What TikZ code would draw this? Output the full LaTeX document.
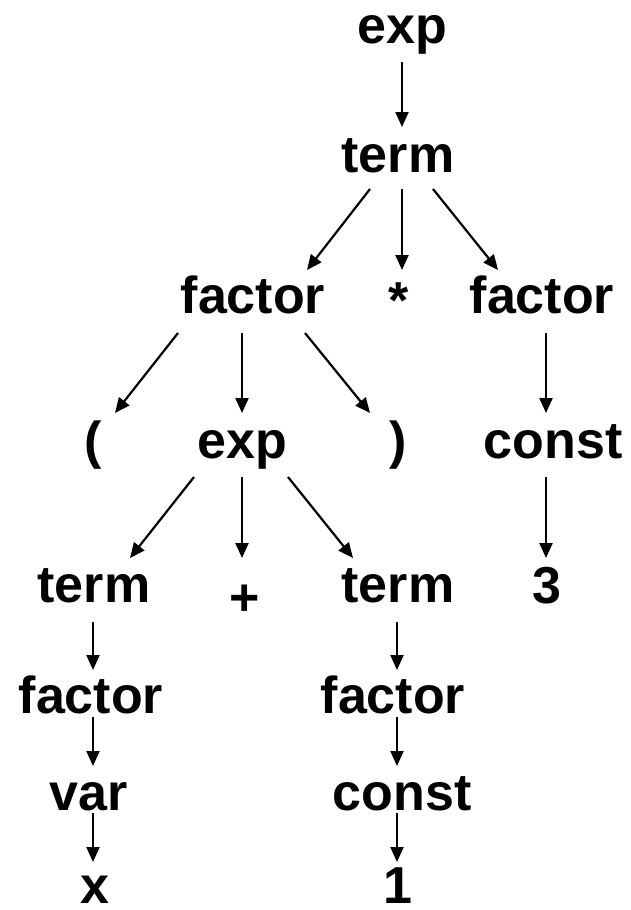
\documentclass[tikz,border=0pt]{standalone}
\usepackage{fontspec}
\setmainfont{Liberation Sans}
\usetikzlibrary{arrows.meta,calc}
\begin{document}
\begin{tikzpicture}[x=1pt,y=-1pt,
  lbl/.style={inner sep=0pt,anchor=base,font=\fontsize{52}{60}\selectfont\bfseries},
  arr/.style={line width=2.2pt,-{Triangle[length=15pt,width=13pt]}}]
\useasboundingbox (0,0) rectangle (631,910);
% nodes
\node[lbl] (e1) at (402,43) {exp};
\node[lbl] (t1) at (398,172) {term};
\node[lbl] (fl) at (253,313) {factor};
\node[lbl,anchor=center] (st) at (399,301) {*};
\node[lbl] (fr) at (542,313) {factor};
\node[lbl] (lp) at (93,458) {(};
\node[lbl] (e2) at (242,458) {exp};
\node[lbl] (rp) at (398,458) {)};
\node[lbl] (c1) at (553,458) {const};
\node[lbl] (tl) at (94,602) {term};
\node[lbl,anchor=center] (pl) at (245,600) {+};
\node[lbl] (tr) at (398,602) {term};
\node[lbl] (n3) at (547,603) {3};
\node[lbl] (fl2) at (91,713) {factor};
\node[lbl] (fr2) at (393,713) {factor};
\node[lbl] (va) at (89,810) {var};
\node[lbl] (c2) at (402,810) {const};
\node[lbl] (xx) at (95,903) {x};
\node[lbl] (n1) at (398,903) {1};
% connectors
\draw[arr] ($(e1.base)+(0,19)$) -- ($(t1.base)+(4,-45)$);
\draw[arr] ($(t1.base)+(-28,17)$) -- ($(fl.base)+(54,-43)$);
\draw[arr] ($(t1.base)+(4,17)$) -- ($(st.center)+(3,-31)$);
\draw[arr] ($(t1.base)+(35,17)$) -- ($(fr.base)+(-44,-43)$);
\draw[arr] ($(fl.base)+(-75,20)$) -- ($(lp.base)+(22,-45)$);
\draw[arr] ($(fl.base)+(-11,20)$) -- ($(e2.base)+(0,-45)$);
\draw[arr] ($(fl.base)+(52,20)$) -- ($(rp.base)+(-28,-45)$);
\draw[arr] ($(fr.base)+(4,20)$) -- ($(c1.base)+(-7,-45)$);
\draw[arr] ($(e2.base)+(-48,19)$) -- ($(tl.base)+(36,-44)$);
\draw[arr] ($(e2.base)+(0,19)$) -- ($(pl.center)+(-3,-42)$);
\draw[arr] ($(e2.base)+(46,19)$) -- ($(tr.base)+(-45,-44)$);
\draw[arr] ($(c1.base)+(-7,19)$) -- ($(n3.base)+(-1,-45)$);
\draw[arr] ($(tl.base)+(-1,20)$) -- ($(fl2.base)+(2,-43)$);
\draw[arr] ($(fl2.base)+(2,4)$) -- ($(va.base)+(4,-44)$);
\draw[arr] ($(va.base)+(4,3)$) -- ($(xx.base)+(-2,-41)$);
\draw[arr] ($(tr.base)+(-1,20)$) -- ($(fr2.base)+(4,-43)$);
\draw[arr] ($(fr2.base)+(4,4)$) -- ($(c2.base)+(-5,-44)$);
\draw[arr] ($(c2.base)+(-5,3)$) -- ($(n1.base)+(-1,-41)$);
\end{tikzpicture}
\end{document}
